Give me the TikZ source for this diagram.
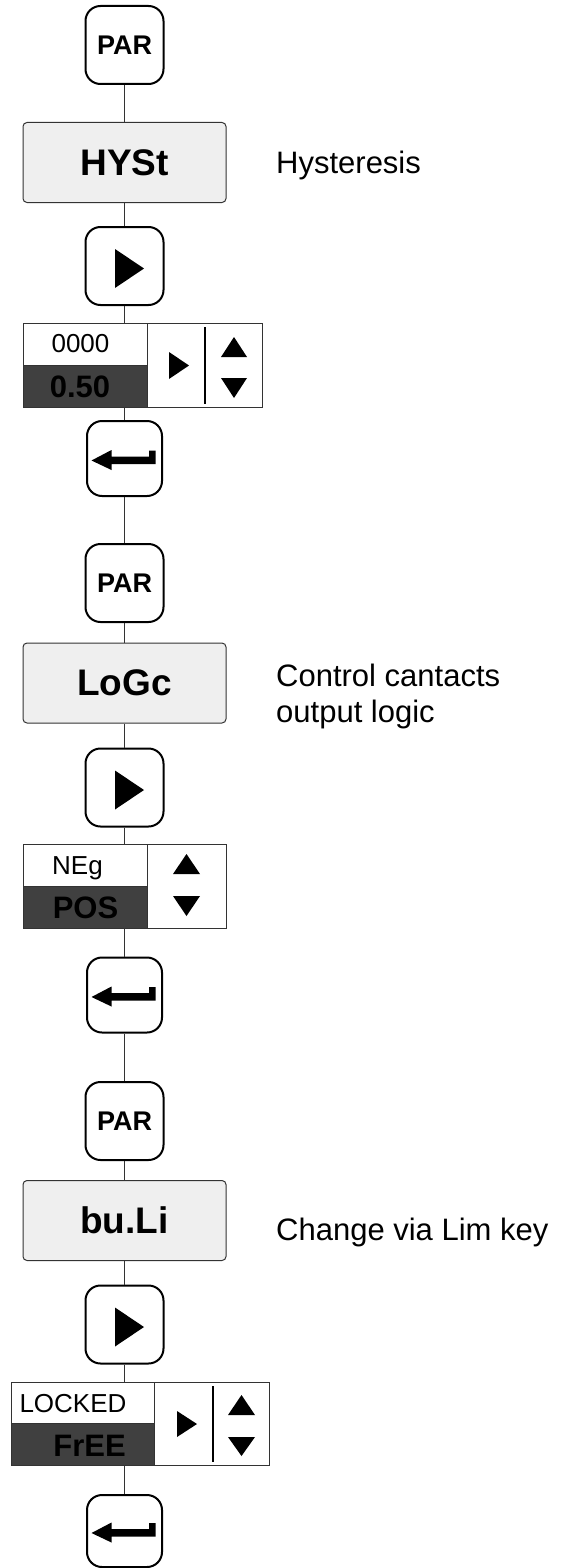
\documentclass[tikz,border=0pt]{standalone}
\usepackage{fontspec}
\setmainfont{Liberation Sans}
\definecolor{boxfill}{HTML}{EFEFEF}
\definecolor{lcdfill}{HTML}{404040}
\definecolor{edge}{HTML}{333333}
\newcommand\playicon[1]{\fill[black] ([shift={(-9.5,-17)}]#1.center) -- ([shift={(19.5,2.5)}]#1.center) -- ([shift={(-9.5,22)}]#1.center) -- cycle;}
\newcommand\entericon[1]{\fill[black] ([shift={(-33,2)}]#1.center) -- ([shift={(-13,-8.5)}]#1.center) -- ([shift={(-13,-1.8)}]#1.center) -- ([shift={(24.5,-1.8)}]#1.center) -- ([shift={(24.5,-7.8)}]#1.center) -- ([shift={(31.2,-7.8)}]#1.center) -- ([shift={(31.2,5.5)}]#1.center) -- ([shift={(-13,5.5)}]#1.center) -- ([shift={(-13,11.5)}]#1.center) -- cycle;}
\begin{document}
\begin{tikzpicture}[x=1pt,y=-1pt,
  key/.style={draw=black, line width=2pt, rounded corners=15pt, fill=white, minimum width=78pt, minimum height=78pt, inner sep=0pt, font=\fontsize{27}{30}\selectfont\bfseries},
  enterkey/.style={key, minimum width=75pt, minimum height=75pt},
  menu/.style={draw=edge, line width=1pt, rounded corners=4pt, fill=boxfill, minimum width=203pt, minimum height=80pt, inner sep=0pt, font=\fontsize{37}{40}\selectfont\bfseries},
  link/.style={draw=edge, line width=1pt},
  desc/.style={anchor=base west, inner sep=0pt, font=\fontsize{31}{36}\selectfont},
  lcd/.style={draw=edge, line width=1pt, inner sep=0pt, anchor=north west},
  small/.style={anchor=base, inner sep=0pt, font=\fontsize{26}{28}\selectfont},
  big/.style={anchor=base, inner sep=0pt, font=\fontsize{31}{34}\selectfont\bfseries},
  sep/.style={draw=black, line width=1.2pt}
]
\useasboundingbox (0,0) rectangle (566,1568);

% ---------- section 1 ----------
\node[key] (par1) at (124.5,45) {PAR};
\node[menu] (hyst) at (124.5,162.5) {HYSt};
\node[desc] (hystd) at (276,173) {Hysteresis};
\node[key] (play1) at (124.5,266) {};
\playicon{play1}
\fill[lcdfill] (23,365) rectangle (147,407);
\node[lcd, minimum width=239pt, minimum height=84pt] (d1) at (23,323) {};
\draw[edge, line width=1pt] (23,365) -- (147,365) (147,323) -- (147,407);
\node[small] (d1a) at (80.5,352) {0000};
\node[big] (d1b) at (80,397) {0.50};
\fill[black] (169,352) -- (189,365.5) -- (169,379) -- cycle;
\draw[sep] (205,327) -- (205,404);
\fill[black] (221,357) -- (234,337) -- (247,357) -- cycle;
\fill[black] (221,378) -- (247,378) -- (234,398) -- cycle;
\node[enterkey] (enter1) at (124.5,458.5) {};
\entericon{enter1}

% ---------- section 2 ----------
\node[key] (par2) at (124.5,583) {PAR};
\node[menu] (logc) at (124.5,683) {LoGc};
\node[desc] (logcd1) at (276,686) {Control cantacts};
\node[desc] (logcd2) at (276,722) {output logic};
\node[key] (play2) at (124.5,787.5) {};
\playicon{play2}
\fill[lcdfill] (23,886) rectangle (147,928);
\node[lcd, minimum width=203pt, minimum height=84pt] (d2) at (23,844) {};
\draw[edge, line width=1pt] (23,886) -- (147,886) (147,844) -- (147,928);
\node[small] (d2a) at (77.5,874) {NEg};
\node[big] (d2b) at (85.5,918) {POS};
\fill[black] (173,874) -- (186.5,854) -- (200,874) -- cycle;
\fill[black] (173,896) -- (200,896) -- (186.5,916) -- cycle;
\node[enterkey] (enter2) at (124.5,995) {};
\entericon{enter2}

% ---------- section 3 ----------
\node[key] (par3) at (124.5,1121) {PAR};
\node[menu] (buli) at (124.5,1220.5) {bu.Li};
\node[desc] (bulid) at (276,1240) {Change via Lim key};
\node[key] (play3) at (124.5,1324.5) {};
\playicon{play3}
\fill[lcdfill] (11,1423) rectangle (154,1465);
\node[lcd, minimum width=258pt, minimum height=83pt] (d3) at (11,1382) {};
\draw[edge, line width=1pt] (11,1423) -- (154,1423) (154,1382) -- (154,1465);
\node[small] (d3a) at (73,1412) {LOCKED};
\node[big] (d3b) at (89.5,1456) {FrEE};
\fill[black] (177,1411) -- (197,1424) -- (177,1437) -- cycle;
\draw[sep] (213,1386) -- (213,1462);
\fill[black] (228,1415) -- (241.5,1395) -- (255,1415) -- cycle;
\fill[black] (228,1437) -- (255,1437) -- (241.5,1456) -- cycle;
\node[enterkey, minimum height=72pt] (enter3) at (124.5,1531) {};
\entericon{enter3}

% ---------- connectors ----------
\draw[link] (par1.south) -- (hyst.north);
\draw[link] (hyst.south) -- (play1.north);
\draw[link] (play1.south) -- (play1.south |- d1.north);
\draw[link] (enter1.north |- d1.south) -- (enter1.north);
\draw[link] (enter1.south) -- (par2.north);
\draw[link] (par2.south) -- (logc.north);
\draw[link] (logc.south) -- (play2.north);
\draw[link] (play2.south) -- (play2.south |- d2.north);
\draw[link] (enter2.north |- d2.south) -- (enter2.north);
\draw[link] (enter2.south) -- (par3.north);
\draw[link] (par3.south) -- (buli.north);
\draw[link] (buli.south) -- (play3.north);
\draw[link] (play3.south) -- (play3.south |- d3.north);
\draw[link] (enter3.north |- d3.south) -- (enter3.north);
\end{tikzpicture}
\end{document}
